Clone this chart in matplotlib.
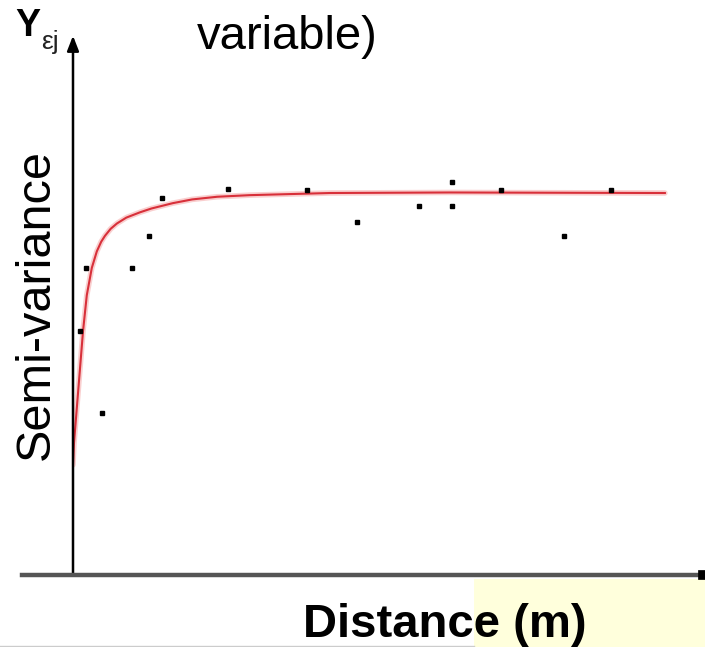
import matplotlib.pyplot as plt
from matplotlib.patches import Rectangle

plt.rcParams['font.family'] = ['Liberation Sans', 'DejaVu Sans']

# experimental semi-variance (distance, semi-variance), arbitrary units
dist = [1.1, 2.1, 4.6, 9.4, 12.1, 14.2, 24.7, 37.3, 45.3, 55.2, 60.4, 60.4, 68.3, 78.3, 85.8]
semivar = [45.6, 57.4, 30.3, 57.4, 63.4, 70.5, 72.1, 72.0, 66.0, 69.0, 73.5, 69.0, 72.0, 63.4, 72.0]

# fitted model
model_x = [0.0, 0.16, 0.8, 1.6, 2.2, 3.0, 3.8, 4.5, 5.1, 6.0, 7.0, 8.5, 10.7,
           12.5, 15.9, 19.0, 23.0, 28.2, 41.0, 60.1, 94.4]
model_y = [20.6, 24.7, 34.0, 45.6, 52.3, 57.4, 60.5, 62.3, 63.4, 64.7, 65.7, 66.8, 67.8,
           68.5, 69.5, 70.2, 70.7, 71.0, 71.4, 71.5, 71.4]

W, H = 705, 647
fig = plt.figure(figsize=(W / 100, H / 100), dpi=100)

# axes placed so that data origin sits at pixel (73, 575)
x0, y0, x1, y1 = 73, 575, 700, 40
ax = fig.add_axes([x0 / W, (H - y0) / H, (x1 - x0) / W, (y0 - y1) / H])
ax.set_xlim(0, 100)
ax.set_ylim(0, 100)
ax.axis('off')

ax.plot(model_x, model_y, color='#f4a0a0', lw=4, alpha=0.5, solid_capstyle='round')
ax.plot(model_x, model_y, color='#d8303a', lw=1.5)
ax.plot(dist, semivar, 's', color='black', ms=3.2)

# axes drawn as arrows
fig.add_artist(plt.Line2D([22 / W, 703 / W], [(H - 575) / H] * 2, color='#555555', lw=3.2))
fig.add_artist(plt.Line2D([703 / W, 705 / W], [(H - 575) / H] * 2, color='black', lw=7))
ax.annotate('', xy=(0, 100.8), xytext=(0, 0), xycoords='data',
            arrowprops=dict(arrowstyle='-|>,head_length=0.9,head_width=0.35',
                            color='black', lw=1.8, shrinkA=0, shrinkB=0),
            annotation_clip=False)

# highlight box behind part of the x label
fig.add_artist(Rectangle((474 / W, 0), (W - 474) / W, (647 - 579) / H,
                         transform=fig.transFigure, facecolor='#ffffdc',
                         edgecolor='none', zorder=0))
fig.add_artist(plt.Line2D([0, 474 / W], [1.5 / H] * 2, color='#cccccc', lw=1))

fig.text(303 / W, (H - 625) / H, 'Distance (m)', fontsize=34, fontweight='bold',
         ha='left', va='center')
fig.text(36 / W, (H - 305) / H, 'Semi-variance', fontsize=35, rotation=90,
         ha='center', va='center')
fig.text(197 / W, (H - 37) / H, 'variable)', fontsize=34, ha='left', va='center')
fig.text(15 / W, (H - 26) / H, 'Y', fontsize=27, fontweight='bold', ha='left', va='center')
fig.text(41 / W, (H - 42) / H, 'εj', fontsize=19, ha='left', va='center', color='#222222')

fig.savefig('out.png', dpi=100, facecolor='white')
